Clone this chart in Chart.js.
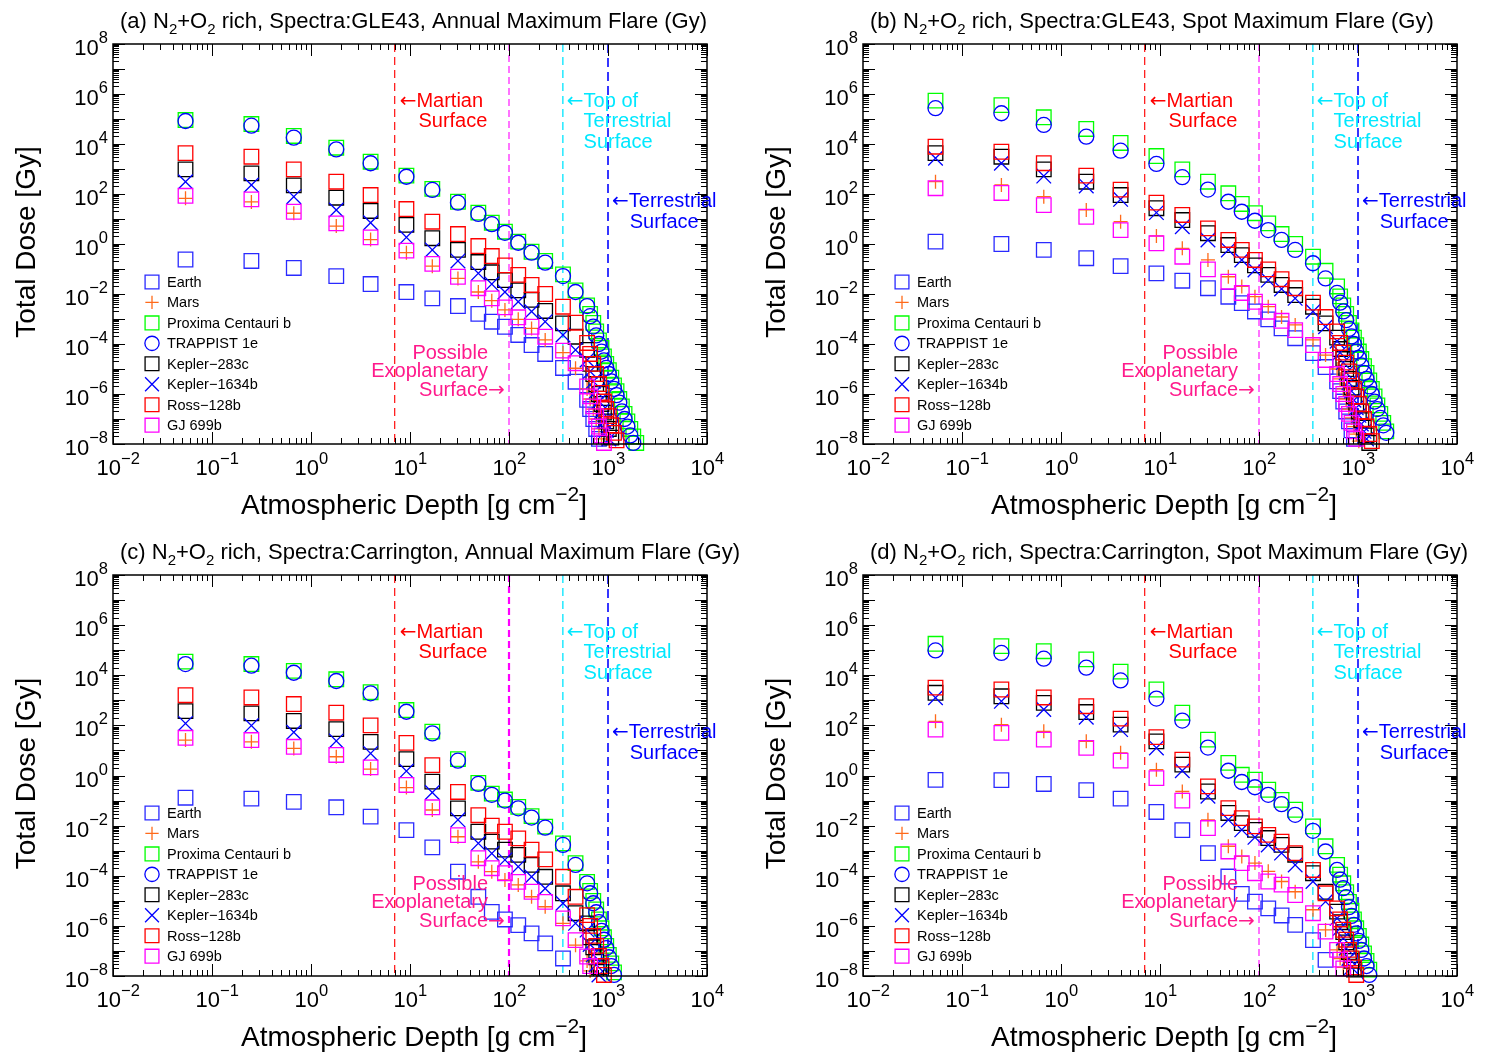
<!DOCTYPE html>
<html>
<head>
<meta charset="utf-8">
<script src="https://cdn.jsdelivr.net/npm/chart.js@4.4.0/dist/chart.umd.min.js"></script>
<style>
  body { margin: 0; background: #fff; }
  canvas { position: absolute; }
</style>
</head>
<body>
<canvas id="pa" width="750" height="530" style="left:0;top:0"></canvas>
<canvas id="pb" width="750" height="530" style="left:750px;top:0"></canvas>
<canvas id="pc" width="750" height="529" style="left:0;top:530px"></canvas>
<canvas id="pd" width="750" height="529" style="left:750px;top:530px"></canvas>
<script>
// atmospheric depth grid [g cm^-2]
const depth = [0.054, 0.25, 0.67, 1.8, 4.0, 9.2, 16.8, 30.5, 49, 67, 91, 124, 169, 232, 351, 470, 615,
  660, 710, 760, 810, 860, 910, 960, 1020, 1080, 1150, 1220, 1300, 1380, 1470, 1570, 1680, 1800, 1930];

const planets = ['Earth', 'Mars', 'Proxima Centauri b', 'TRAPPIST 1e', 'Kepler\u2212283c', 'Kepler\u22121634b', 'Ross\u2212128b', 'GJ 699b'];
const xTickExp = [-2, -1, 0, 1, 2, 3, 4];
const yTickExp = [-8, -6, -4, -2, 0, 2, 4, 6, 8];
const markerDepths = [7, 100, 350, 1000]; // Martian, exoplanetary, top of terrestrial, terrestrial

// (a) GLE43, annual maximum flare
const earthA = [0.24, 0.21, 0.11, 0.052, 0.025, 0.012, 6.7e-3, 3.3e-3, 1.6e-3, 7.8e-4, 4.9e-4, 2.3e-4, 9.1e-5, 4e-5, 1.1e-5, 3.1e-6, 5.8e-7, 2.5e-7, 1e-7, 4e-8, 1.6e-8];
const marsA = [67, 48, 17, 5.2, 1.5, 0.45, 0.13, 0.042, 0.012, 5.4e-3, 2.3e-3, 9.7e-4, 4.2e-4, 1.45e-4, 4.5e-5, 1.07e-5, 1.6e-6, 6.3e-7, 2.5e-7, 1e-7, 4e-8, 1.6e-8];
const proxA = [9.1e4, 6.3e4, 2.1e4, 7.1e3, 1.96e3, 540, 160, 49, 18, 7.1, 3.1, 1.24, 0.49, 0.21, 0.061, 0.014, 3.5e-3, 1.6e-3, 7e-4, 3.2e-4, 1.4e-4, 7e-5, 3.2e-5, 1.6e-5, 9e-6, 4.5e-6, 2.2e-6, 1.3e-6, 6.3e-7, 3.2e-7, 1.6e-7, 8e-8, 4e-8, 2e-8, 1.1e-8];
const trapA = [8.3e4, 5.4e4, 1.8e4, 6.1e3, 1.7e3, 490, 145, 45, 16, 6.2, 2.8, 1.12, 0.45, 0.18, 0.052, 0.012, 3.3e-3, 1.3e-3, 5e-4, 2.2e-4, 1e-4, 5e-5, 2.2e-5, 1.1e-5, 6.3e-6, 3.2e-6, 1.6e-6, 9e-7, 4.5e-7, 2e-7, 1e-7, 5e-8, 2.2e-8, 1.1e-8];
const k283A = [970, 670, 220, 71, 21, 5.8, 1.7, 0.58, 0.19, 0.074, 0.036, 0.014, 5.8e-3, 2.1e-3, 6.7e-4, 1.96e-4, 5.8e-5, 1.6e-5, 6.3e-6, 2.5e-6, 1e-6, 4e-7, 1.8e-7, 8e-8, 4e-8, 1.8e-8];
const k1634A = [310, 230, 78, 23, 7.1, 1.85, 0.58, 0.21, 0.067, 0.025, 0.012, 4.9e-3, 2e-3, 7.8e-4, 2.3e-4, 5.8e-5, 2.3e-5, 8e-6, 3.2e-6, 1.3e-6, 5e-7, 2e-7, 8e-8, 3.5e-8, 1.6e-8];
const rossA = [4.3e3, 3.1e3, 970, 310, 91, 25, 7.8, 2.5, 0.83, 0.33, 0.14, 0.058, 0.023, 0.01, 3.1e-3, 7.1e-4, 1.1e-4, 4e-5, 1.6e-5, 6.3e-6, 2.5e-6, 1.1e-6, 5e-7, 2.5e-7, 1.3e-7, 5.6e-8, 2.8e-8, 1.4e-8];
const gjA = [85, 61, 19.5, 6.7, 1.85, 0.54, 0.16, 0.049, 0.017, 6.7e-3, 2.9e-3, 1.17e-3, 4.9e-4, 1.96e-4, 5.4e-5, 1.7e-5, 2e-6, 8e-7, 3.2e-7, 1.3e-7, 5e-8, 2.2e-8, 1.1e-8];

// (b) GLE43, spot maximum flare
const earthB = [1.24, 1.0, 0.58, 0.27, 0.13, 0.067, 0.034, 0.017, 7.8e-3, 4.3e-3, 2e-3, 9.7e-4, 4.2e-4, 1.7e-4, 4.3e-5, 1.2e-5, 3.2e-6, 1.3e-6, 5e-7, 2e-7, 8e-8, 3.5e-8, 1.6e-8];
const marsB = [310, 230, 78, 23, 7.8, 2.1, 0.67, 0.23, 0.049, 0.02, 7.8e-3, 3.1e-3, 1.2e-3, 5.8e-4, 1.45e-4, 3.6e-5, 1e-5, 4e-6, 1.6e-6, 6.3e-7, 2.5e-7, 1.1e-7, 5e-8, 2.5e-8, 1.3e-8];
const proxB = [5.4e5, 3.6e5, 1.17e5, 4e4, 1.1e4, 3.3e3, 970, 310, 107, 40, 17, 6.7, 2.5, 1.0, 0.31, 0.085, 0.02, 8e-3, 3.5e-3, 1.6e-3, 7e-4, 3.5e-4, 1.8e-4, 9e-5, 5e-5, 2.5e-5, 1.3e-5, 7e-6, 3.5e-6, 1.6e-6, 8e-7, 3.5e-7, 1.6e-7, 7e-8, 3.2e-8];
const trapB = [2.7e5, 1.7e5, 5.8e4, 1.96e4, 5.4e3, 1.6e3, 470, 150, 49, 19.5, 8.5, 3.6, 1.45, 0.58, 0.17, 0.042, 0.011, 4.5e-3, 2e-3, 9e-4, 4e-4, 2e-4, 1e-4, 5e-5, 2.8e-5, 1.4e-5, 7e-6, 4e-6, 2e-6, 1e-6, 5e-7, 2.5e-7, 1.1e-7, 5.6e-8, 2.8e-8];
const k283B = [4.3e3, 3.1e3, 970, 310, 91, 27, 9.1, 2.7, 0.91, 0.36, 0.14, 0.058, 0.023, 9.1e-3, 3.1e-3, 6.7e-4, 1.8e-4, 6.3e-5, 2.5e-5, 1e-5, 4e-6, 1.8e-6, 8e-7, 4e-7, 2e-7, 9e-8, 4.5e-8, 2.2e-8, 1.1e-8];
const k1634B = [2.7e3, 1.7e3, 520, 210, 61, 18, 4.9, 1.45, 0.58, 0.23, 0.091, 0.036, 0.016, 6.7e-3, 2e-3, 4.9e-4, 1.3e-4, 4.5e-5, 1.8e-5, 7e-6, 2.8e-6, 1.3e-6, 5.6e-7, 2.8e-7, 1.4e-7, 6.3e-8, 3.2e-8, 1.6e-8];
const rossB = [7.8e3, 4.9e3, 1.7e3, 540, 150, 45, 14.5, 4.2, 1.45, 0.58, 0.23, 0.097, 0.039, 0.017, 4.5e-3, 1.2e-3, 3.2e-4, 1.1e-4, 4.5e-5, 1.8e-5, 8e-6, 3.5e-6, 1.6e-6, 8e-7, 4e-7, 2e-7, 1e-7, 5e-8, 2.5e-8, 1.3e-8];
const gjB = [170, 110, 36, 12.3, 3.6, 1.07, 0.31, 0.097, 0.031, 0.011, 4.9e-3, 1.96e-3, 8.5e-4, 3.6e-4, 9.1e-5, 2.3e-5, 6.3e-6, 2.5e-6, 1e-6, 4e-7, 1.6e-7, 7e-8, 3.2e-8, 1.6e-8];

// (c) Carrington, annual maximum flare
const earthC = [0.13, 0.12, 0.089, 0.054, 0.023, 6.6e-3, 1.35e-3, 1.45e-4, 1.45e-5, 3.6e-6, 1.8e-6, 1.07e-6, 5e-7, 2e-7, 5e-8];
const marsC = [26, 22, 12, 5.6, 1.8, 0.33, 0.042, 3.6e-3, 3.6e-4, 1.45e-4, 6.8e-5, 4.3e-5, 1.45e-5, 5.8e-6, 1.26e-6, 1.7e-7, 4e-8, 1.6e-8];
const proxC = [3.5e4, 2.8e4, 1.5e4, 6.9e3, 2.1e3, 410, 56, 4.5, 0.51, 0.19, 0.11, 0.056, 0.024, 9.1e-3, 1.96e-3, 3.2e-4, 5.7e-5, 2.5e-5, 1e-5, 4.5e-6, 1.8e-6, 8e-7, 3.5e-7, 1.6e-7, 7e-8, 3.2e-8, 1.4e-8];
const trapC = [2.8e4, 2.4e4, 1.26e4, 5.9e3, 1.9e3, 350, 48, 3.9, 0.46, 0.17, 0.1, 0.049, 0.021, 8.3e-3, 1.7e-3, 2.7e-4, 5e-5, 2e-5, 8e-6, 3.5e-6, 1.4e-6, 6.3e-7, 2.8e-7, 1.3e-7, 5.6e-8, 2.5e-8, 1.1e-8];
const k283C = [370, 300, 150, 71, 22, 4.5, 0.57, 0.049, 5.7e-3, 2.3e-3, 1.1e-3, 6.8e-4, 2.7e-4, 9.1e-5, 2e-5, 3.2e-6, 1.26e-6, 3.5e-7, 1.4e-7, 5.6e-8, 2.2e-8];
const k1634C = [120, 98, 53, 24, 7.6, 1.5, 0.21, 0.017, 1.96e-3, 7.8e-4, 4.3e-4, 2.3e-4, 9.1e-5, 3.1e-5, 8e-6, 1.26e-6, 6.8e-7, 1.8e-7, 7e-8, 2.8e-8, 1.1e-8];
const rossC = [1.6e3, 1.3e3, 710, 320, 100, 20, 2.6, 0.22, 0.026, 0.01, 5.7e-3, 3.1e-3, 1.1e-3, 4.5e-4, 9.1e-5, 1.45e-5, 2.7e-6, 1e-6, 4e-7, 1.6e-7, 6.3e-8, 2.5e-8, 1.1e-8];
const gjC = [32, 26, 14, 6.6, 2.1, 0.42, 0.054, 4.2e-3, 5e-4, 2e-4, 1.26e-4, 5.7e-5, 2.3e-5, 9.1e-6, 2e-6, 2.7e-7, 6e-8, 2.5e-8];

// (d) Carrington, spot maximum flare
const earthD = [0.67, 0.65, 0.46, 0.26, 0.12, 0.035, 6.6e-3, 8e-4, 9.3e-5, 1.9e-5, 9.3e-6, 5e-6, 2.6e-6, 1.1e-6, 2.7e-7, 4.4e-8];
const marsD = [145, 107, 58, 23, 8, 1.7, 0.23, 0.017, 1.5e-3, 5.9e-4, 3.2e-4, 1.5e-4, 5.9e-5, 2.3e-5, 4.4e-6, 6.9e-7, 1.1e-7, 5e-8, 2.2e-8];
const proxD = [1.8e5, 1.45e5, 9.1e4, 4.3e4, 1.4e4, 2.7e3, 320, 27, 3.2, 1.07, 0.68, 0.27, 0.107, 0.043, 9.3e-3, 1.5e-3, 2.7e-4, 1.1e-4, 5e-5, 2.2e-5, 9e-6, 4e-6, 1.8e-6, 8e-7, 4e-7, 1.8e-7, 8e-8, 4e-8, 1.8e-8];
const trapD = [9.8e4, 7.8e4, 4.6e4, 2e4, 6.2e3, 1.17e3, 155, 13, 1.55, 0.55, 0.34, 0.17, 0.072, 0.027, 6.2e-3, 9.3e-4, 1.7e-4, 7e-5, 3.2e-5, 1.4e-5, 5.6e-6, 2.5e-6, 1.1e-6, 5e-7, 2.5e-7, 1.1e-7, 5e-8, 2.5e-8, 1.1e-8];
const k283D = [2e3, 1.45e3, 790, 340, 107, 23, 2.7, 0.23, 0.032, 0.0126, 6.8e-3, 3.2e-3, 1.7e-3, 6.9e-4, 1.26e-4, 2.3e-5, 3.7e-6, 1.4e-6, 5.6e-7, 2.2e-7, 9e-8, 4e-8, 1.8e-8];
const k1634D = [1.26e3, 910, 430, 210, 68, 12.6, 1.55, 0.15, 0.017, 6.8e-3, 3.4e-3, 1.7e-3, 8e-4, 2.7e-4, 5.9e-5, 9.3e-6, 2e-6, 8e-7, 3.2e-7, 1.3e-7, 5e-8, 2.2e-8];
const rossD = [3.2e3, 2.7e3, 1.3e3, 580, 185, 34, 4.3, 0.37, 0.05, 0.02, 9.3e-3, 4.3e-3, 2.3e-3, 8e-4, 1.7e-4, 2e-5, 5e-6, 1.8e-6, 7e-7, 2.8e-7, 1.1e-7, 5e-8, 2.2e-8, 1.1e-8];
const gjD = [68, 50, 27, 12.6, 3.9, 0.79, 0.1, 8e-3, 9.3e-4, 3.2e-4, 1.26e-4, 5.9e-5, 4.4e-5, 1.7e-5, 3.2e-6, 5.9e-7, 1.1e-7, 4.5e-8, 2e-8];

const FONT = '"Liberation Sans", Arial, Helvetica, sans-serif';
const ARROW_FONT = '"DejaVu Sans", sans-serif';
const colors = ['#2a2aff', '#ff6a1a', '#00ff00', '#0000ff', '#000000', '#0000ff', '#ff0000', '#ff00ff'];
const styles = ['rect', 'cross', 'rect', 'circle', 'rect', 'crossRot', 'rect', 'rect'];
const radii = [10.3, 7, 10.3, 7.5, 10.3, 10.3, 10.3, 10.3];
const lineColors = ['#ff2020', '#ff00ff', '#00e5ff', '#2020ff'];

function pairs(vals) {
  return vals.map((v, i) => ({ x: depth[i], y: v }));
}

function setFont(ctx, p) { ctx.font = p.size + 'px ' + (p.fam || FONT); }
function drawRich(ctx, parts, x, y) {
  ctx.textAlign = 'left';
  parts.forEach(p => {
    setFont(ctx, p);
    ctx.fillText(p.t, x, y + (p.dy || 0));
    x += ctx.measureText(p.t).width;
  });
}
function richWidth(ctx, parts) {
  let w = 0;
  parts.forEach(p => { setFont(ctx, p); w += ctx.measureText(p.t).width; });
  return w;
}
function expText(n) { return n < 0 ? '\u2212' + Math.abs(n) : String(n); }

function drawSymbol(ctx, style, r, x, y) {
  ctx.beginPath();
  if (style === 'rect') {
    const s = Math.SQRT1_2 * r;
    ctx.rect(x - s, y - s, 2 * s, 2 * s);
  } else if (style === 'circle') {
    ctx.arc(x, y, r, 0, Math.PI * 2);
  } else if (style === 'cross') {
    ctx.moveTo(x, y - r); ctx.lineTo(x, y + r);
    ctx.moveTo(x - r, y); ctx.lineTo(x + r, y);
  } else {
    const s = Math.SQRT1_2 * r;
    ctx.moveTo(x - s, y - s); ctx.lineTo(x + s, y + s);
    ctx.moveTo(x + s, y - s); ctx.lineTo(x - s, y + s);
  }
  ctx.stroke();
}

function framePlugin(p) {
  return {
    id: 'frame',
    beforeDatasetsDraw(chart) {
      const { ctx, chartArea: a, scales: { x } } = chart;
      const widths = [1.3, p.magWidth, 1.3, 1.8];
      const dashes = [[8, 5], [7, 4], [8, 5], [9, 5]];
      markerDepths.forEach((d, i) => {
        const px = x.getPixelForValue(d);
        ctx.save();
        ctx.strokeStyle = lineColors[i];
        ctx.lineWidth = widths[i];
        ctx.setLineDash(dashes[i]);
        ctx.beginPath(); ctx.moveTo(px, a.top); ctx.lineTo(px, a.bottom); ctx.stroke();
        ctx.restore();
      });
    },
    afterDraw(chart) {
      const { ctx, chartArea: a, scales: { x, y } } = chart;
      ctx.save();
      ctx.strokeStyle = '#000';
      ctx.fillStyle = '#000';
      // ticks
      ctx.lineWidth = 1;
      ctx.beginPath();
      for (let d = -2; d <= 4; d++) {
        for (let k = 1; k <= 9; k++) {
          if (d === 4 && k > 1) break;
          const px = Math.round(x.getPixelForValue(k * Math.pow(10, d))) + 0.5;
          const len = k === 1 ? 12 : 6;
          ctx.moveTo(px, a.bottom); ctx.lineTo(px, a.bottom - len);
          ctx.moveTo(px, a.top); ctx.lineTo(px, a.top + len);
        }
      }
      for (let d = -8; d <= 8; d++) {
        for (let k = 1; k <= 9; k++) {
          if (d === 8 && k > 1) break;
          const py = Math.round(y.getPixelForValue(k * Math.pow(10, d))) + 0.5;
          const len = k === 1 ? 12 : 6;
          ctx.moveTo(a.left, py); ctx.lineTo(a.left + len, py);
          ctx.moveTo(a.right, py); ctx.lineTo(a.right - len, py);
        }
      }
      ctx.stroke();
      ctx.lineWidth = 1.5;
      ctx.strokeRect(a.left, a.top, a.right - a.left, a.bottom - a.top);

      // tick labels
      ctx.textBaseline = 'alphabetic';
      xTickExp.forEach(e => {
        const px = x.getPixelForValue(Math.pow(10, e));
        ctx.font = '22px ' + FONT;
        const w10 = ctx.measureText('10').width;
        drawRich(ctx, [{ t: '10', size: 22 }, { t: expText(e), size: 16.5, dy: -11 }], px + 8 - w10, a.bottom + 31);
      });
      yTickExp.forEach(e => {
        const py = y.getPixelForValue(Math.pow(10, e));
        const parts = [{ t: '10', size: 22 }, { t: expText(e), size: 16.5, dy: -12 }];
        drawRich(ctx, parts, a.left - 5 - richWidth(ctx, parts), py + 11);
      });

      // title, starts just right of the left axis
      const title = [{ t: p.letter + ' N', size: 22 }, { t: '2', size: 15, dy: 6 }, { t: '+O', size: 22 },
        { t: '2', size: 15, dy: 6 }, { t: ' rich, Spectra:' + p.spectra + ', ' + p.flare + ' Maximum Flare (Gy)', size: 22 }];
      const cx = (a.left + a.right) / 2;
      drawRich(ctx, title, a.left + 7, a.top - 16);

      // axis titles
      const xt = [{ t: 'Atmospheric Depth [g cm', size: 28 }, { t: '\u22122', size: 21, dy: -13 }, { t: ']', size: 28 }];
      drawRich(ctx, xt, cx - richWidth(ctx, xt) / 2 + 4, a.bottom + 70);
      ctx.save();
      ctx.translate(27, (a.top + a.bottom) / 2 - 2);
      ctx.rotate(-Math.PI / 2);
      ctx.font = '28px ' + FONT;
      ctx.textAlign = 'center';
      ctx.textBaseline = 'middle';
      ctx.fillText('Total Dose [Gy]', 0, 0);
      ctx.restore();

      // annotations
      const F = 20;
      const arrowL = { t: '\u2190', size: F, fam: ARROW_FONT };
      const aw = richWidth(ctx, [arrowL]);
      const [mx, ex, tx, sx] = markerDepths.map(d => x.getPixelForValue(d));
      const t0 = a.top;
      ctx.textBaseline = 'alphabetic';
      ctx.fillStyle = '#ff0000';
      drawRich(ctx, [arrowL, { t: 'Martian', size: F }], mx + 5, t0 + 63);
      drawRich(ctx, [{ t: 'Surface', size: F }], mx + 7 + aw, t0 + 83);
      ctx.fillStyle = '#00e8ff';
      drawRich(ctx, [arrowL, { t: 'Top of', size: F }], tx + 4, t0 + 63);
      drawRich(ctx, [{ t: 'Terrestrial', size: F }], tx + 4 + aw, t0 + 83);
      drawRich(ctx, [{ t: 'Surface', size: F }], tx + 4 + aw, t0 + 104);
      ctx.fillStyle = '#0000ff';
      drawRich(ctx, [arrowL, { t: 'Terrestrial', size: F }], sx + 4, t0 + 163);
      drawRich(ctx, [{ t: 'Surface', size: F }], sx + 5 + aw, t0 + 184);
      ctx.fillStyle = '#ff1a8c';
      const pr = ex - 21;
      const lines = [[{ t: 'Possible', size: F }], [{ t: 'Exoplanetary', size: F }]];
      drawRich(ctx, lines[0], pr - richWidth(ctx, lines[0]), t0 + 315);
      drawRich(ctx, lines[1], pr - richWidth(ctx, lines[1]), t0 + 333);
      const last = [{ t: 'Surface', size: F }, { t: '\u2192', size: F, fam: ARROW_FONT }];
      drawRich(ctx, last, pr - richWidth(ctx, [last[0]]), t0 + 352);

      // legend
      ctx.textAlign = 'left';
      ctx.textBaseline = 'middle';
      ctx.font = '14.5px ' + FONT;
      planets.forEach((n, i) => {
        const ly = a.top + 238 + 20.45 * i;
        ctx.strokeStyle = colors[i];
        ctx.lineWidth = 1.3;
        drawSymbol(ctx, styles[i], radii[i] * 0.95, a.left + 39, ly);
        ctx.fillStyle = '#000';
        ctx.fillText(n, a.left + 54, ly + 1);
      });
      ctx.restore();
    }
  };
}

const panels = [
  { id: 'pa', letter: '(a)', spectra: 'GLE43', flare: 'Annual', top: 44, bottom: 86, magWidth: 1.1, vals: [earthA, marsA, proxA, trapA, k283A, k1634A, rossA, gjA] },
  { id: 'pb', letter: '(b)', spectra: 'GLE43', flare: 'Spot', top: 44, bottom: 86, magWidth: 1.1, vals: [earthB, marsB, proxB, trapB, k283B, k1634B, rossB, gjB] },
  { id: 'pc', letter: '(c)', spectra: 'Carrington', flare: 'Annual', top: 45, bottom: 83, magWidth: 2.2, vals: [earthC, marsC, proxC, trapC, k283C, k1634C, rossC, gjC] },
  { id: 'pd', letter: '(d)', spectra: 'Carrington', flare: 'Spot', top: 45, bottom: 83, magWidth: 1.1, vals: [earthD, marsD, proxD, trapD, k283D, k1634D, rossD, gjD] }
];

panels.forEach(p => {
  const datasets = planets.map((name, i) => ({
    label: name,
    data: pairs(p.vals[i]),
    showLine: false,
    pointStyle: styles[i],
    pointRadius: radii[i],
    pointBorderWidth: 1.3,
    borderColor: colors[i],
    backgroundColor: 'rgba(0,0,0,0)',
    order: planets.length - i,
    clip: false
  }));
  new Chart(document.getElementById(p.id), {
    type: 'scatter',
    data: { datasets },
    options: {
      responsive: false,
      animation: false,
      events: [],
      layout: { padding: { left: 113, right: 43, top: p.top, bottom: p.bottom } },
      plugins: { legend: { display: false }, tooltip: { enabled: false } },
      scales: {
        x: { type: 'logarithmic', min: 0.01, max: 1e4, display: false },
        y: { type: 'logarithmic', min: 1e-8, max: 1e8, display: false }
      }
    },
    plugins: [framePlugin(p)]
  });
});
</script>
</body>
</html>
